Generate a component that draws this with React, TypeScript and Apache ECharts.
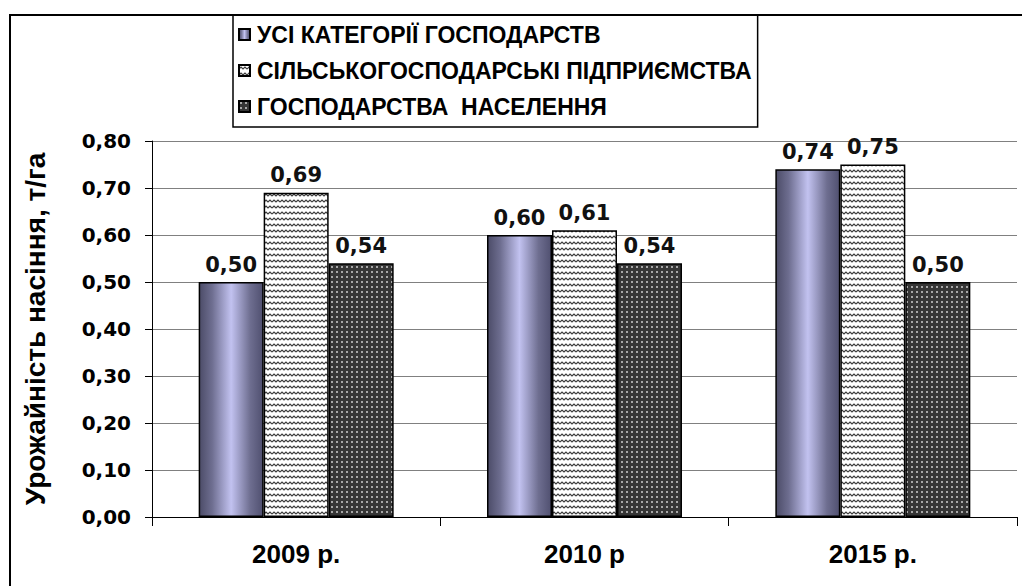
import React, { useEffect, useRef } from "react";
import * as echarts from "echarts";

const categories = ["2009 р.", "2010 р", "2015 р."];
const seriesNames = [
  "УСІ КАТЕГОРІЇ ГОСПОДАРСТВ",
  "СІЛЬСЬКОГОСПОДАРСЬКІ ПІДПРИЄМСТВА",
  "ГОСПОДАРСТВА  НАСЕЛЕННЯ",
];
const allCategories = [0.5, 0.6, 0.74];
const agriEnterprises = [0.69, 0.61, 0.75];
const households = [0.54, 0.54, 0.5];
const yTicks = { min: 0, max: 0.8, interval: 0.1 };
const yAxisTitle = "Урожайність насіння, т/га";

function makeZigzag(): HTMLCanvasElement {
  const c = document.createElement("canvas");
  c.width = 8;
  c.height = 6;
  const ctx = c.getContext("2d")!;
  ctx.fillStyle = "#ffffff";
  ctx.fillRect(0, 0, 8, 6);
  ctx.strokeStyle = "#3c3c3c";
  ctx.lineWidth = 1.2;
  ctx.beginPath();
  ctx.moveTo(0, 4);
  ctx.lineTo(2, 2);
  ctx.lineTo(4, 4);
  ctx.lineTo(6, 2);
  ctx.lineTo(8, 4);
  ctx.stroke();
  return c;
}

function makeDots(): HTMLCanvasElement {
  const c = document.createElement("canvas");
  c.width = 5;
  c.height = 5;
  const ctx = c.getContext("2d")!;
  ctx.fillStyle = "#363636";
  ctx.fillRect(0, 0, 5, 5);
  ctx.fillStyle = "#a8a8a8";
  ctx.fillRect(1, 1, 2, 2);
  return c;
}

const fmt = (v: number) => v.toFixed(2).replace(".", ",");

export default function App() {
  const ref = useRef<HTMLDivElement>(null);
  useEffect(() => {
    if (!ref.current) return;
    document.body.style.margin = "0";
    const chart = echarts.init(ref.current, null, { renderer: "svg" });
    const zig = makeZigzag();
    const dots = makeDots();
    const labelStyle = {
      show: true,
      position: "top",
      distance: 7,
      fontFamily: "DejaVu Sans",
      fontWeight: "bold",
      fontSize: 21,
      color: "#111",
      formatter: (p: any) => fmt(p.value),
    };
    const border = { borderColor: "#000", borderWidth: 1.5 };
    chart.setOption({
      animation: false,
      backgroundColor: "#ffffff",
      graphic: [
        {
          type: "rect",
          shape: { x: 10, y: 15, width: 1040, height: 600 },
          style: { fill: "none", stroke: "#000", lineWidth: 2 },
          z: 100,
        },
      ],
      legend: {
        orient: "vertical",
        left: 233,
        top: 15,
        padding: [8, 6, 9, 5],
        itemGap: 13,
        itemWidth: 11,
        itemHeight: 11,
        borderColor: "#000",
        borderWidth: 1.5,
        icon: "rect",
        textStyle: {
          fontFamily: "Liberation Sans",
          fontWeight: "bold",
          fontSize: 23,
          color: "#000",
          padding: [0, 0, 0, 2],
        },
        data: seriesNames,
      },
      grid: { left: 152, right: 5, top: 141, bottom: 69, containLabel: false },
      xAxis: {
        type: "category",
        data: categories,
        axisLine: { show: true, lineStyle: { color: "#000", width: 1 } },
        axisTick: { show: true, alignWithLabel: false, length: 9, lineStyle: { color: "#000" } },
        axisLabel: {
          margin: 24,
          fontFamily: "Liberation Sans",
          fontWeight: "bold",
          fontSize: 26,
          color: "#000",
        },
      },
      yAxis: {
        type: "value",
        min: yTicks.min,
        max: yTicks.max,
        interval: yTicks.interval,
        name: yAxisTitle,
        nameLocation: "middle",
        nameRotate: 90,
        nameGap: 103,
        nameTextStyle: {
          fontFamily: "Liberation Sans",
          fontWeight: "bold",
          fontSize: 28,
          color: "#000",
        },
        axisLine: { show: true, lineStyle: { color: "#000", width: 1 } },
        axisTick: { show: true, length: 7, lineStyle: { color: "#000" } },
        axisLabel: {
          margin: 21,
          fontFamily: "DejaVu Sans",
          fontWeight: "bold",
          fontSize: 20,
          color: "#000",
          formatter: (v: number) => fmt(v),
        },
        splitLine: { show: true, lineStyle: { color: "#808080", width: 1 } },
      },
      series: [
        {
          name: seriesNames[0],
          type: "bar",
          data: allCategories,
          barWidth: 65,
          barGap: "0%",
          itemStyle: {
            ...border,
            color: new echarts.graphic.LinearGradient(0, 0, 1, 0, [
              { offset: 0, color: "#4c4c68" },
              { offset: 0.2, color: "#6e6e90" },
              { offset: 0.5, color: "#c2c2f0" },
              { offset: 0.8, color: "#6e6e90" },
              { offset: 1, color: "#505070" },
            ]),
          },
          label: labelStyle,
        },
        {
          name: seriesNames[1],
          type: "bar",
          data: agriEnterprises,
          barWidth: 65,
          barGap: "0%",
          itemStyle: {
            ...border,
            color: { image: zig, repeat: "repeat", imageWidth: 8, imageHeight: 6 },
          },
          label: labelStyle,
        },
        {
          name: seriesNames[2],
          type: "bar",
          data: households,
          barWidth: 65,
          barGap: "0%",
          itemStyle: {
            ...border,
            color: { image: dots, repeat: "repeat", imageWidth: 5, imageHeight: 5 },
          },
          label: labelStyle,
        },
      ],
    });
    return () => chart.dispose();
  }, []);
  return (
    <div
      ref={ref}
      style={{ position: "fixed", left: 0, top: 0, width: 1022, height: 586 }}
    />
  );
}
